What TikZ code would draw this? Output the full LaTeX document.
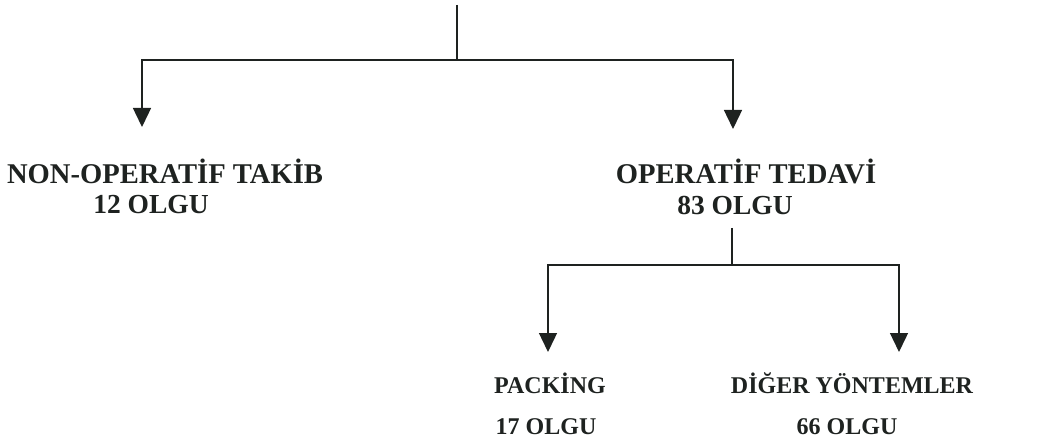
\documentclass[tikz,border=0pt]{standalone}
\usepackage{fontspec}
\setmainfont{Liberation Serif}
\usetikzlibrary{arrows.meta}
\definecolor{ink}{RGB}{30,34,32}
\tikzset{
  title/.style={font=\fontsize{28.6}{31}\selectfont\bfseries, text=ink, inner sep=0pt, anchor=base},
  big/.style={font=\fontsize{27.5}{30}\selectfont\bfseries, text=ink, inner sep=0pt, anchor=base},
  small/.style={font=\fontsize{24}{28}\selectfont\bfseries, text=ink, inner sep=0pt, anchor=base},
  wire/.style={draw=ink, line width=1.4pt},
  arr/.style={wire, -{Triangle[width=18pt,length=19pt]}}
}
\begin{document}
\begin{tikzpicture}[x=1pt,y=-1pt]
\useasboundingbox (0,0) rectangle (1057,446);
% texts
\node[title] (nonop) at (165,184) {NON-OPERATİF TAKİB};
\node[big] (nonopn) at (151,214) {12 OLGU};
\node[title] (op) at (746,184) {OPERATİF TEDAVİ};
\node[big] (opn) at (735,215) {83 OLGU};
\node[small] (pack) at (550,393) {PACKİNG};
\node[small] (packn) at (546,434) {17 OLGU};
\node[small] (dig) at (852,393) {DİĞER YÖNTEMLER};
\node[small] (dign) at (847,434) {66 OLGU};
% coordinates
\coordinate (root) at (457,5);
\coordinate (j1) at (457,60);
\coordinate (l1) at (142,60);
\coordinate (r1) at (733,60);
\coordinate (t1) at (142,127);
\coordinate (t2) at (733,129);
\coordinate (s2) at (732,228);
\coordinate (j2) at (732,265);
\coordinate (l2) at (548,265);
\coordinate (r2) at (899,265);
\coordinate (t3) at (548,352);
\coordinate (t4) at (899,352);
% connectors
\draw[wire] (root) -- (j1);
\draw[arr] (j1) -- (l1) -- (t1);
\draw[arr] (j1) -- (r1) -- (t2);
\draw[wire] (s2) -- (j2);
\draw[arr] (j2) -- (l2) -- (t3);
\draw[arr] (j2) -- (r2) -- (t4);
\end{tikzpicture}
\end{document}
